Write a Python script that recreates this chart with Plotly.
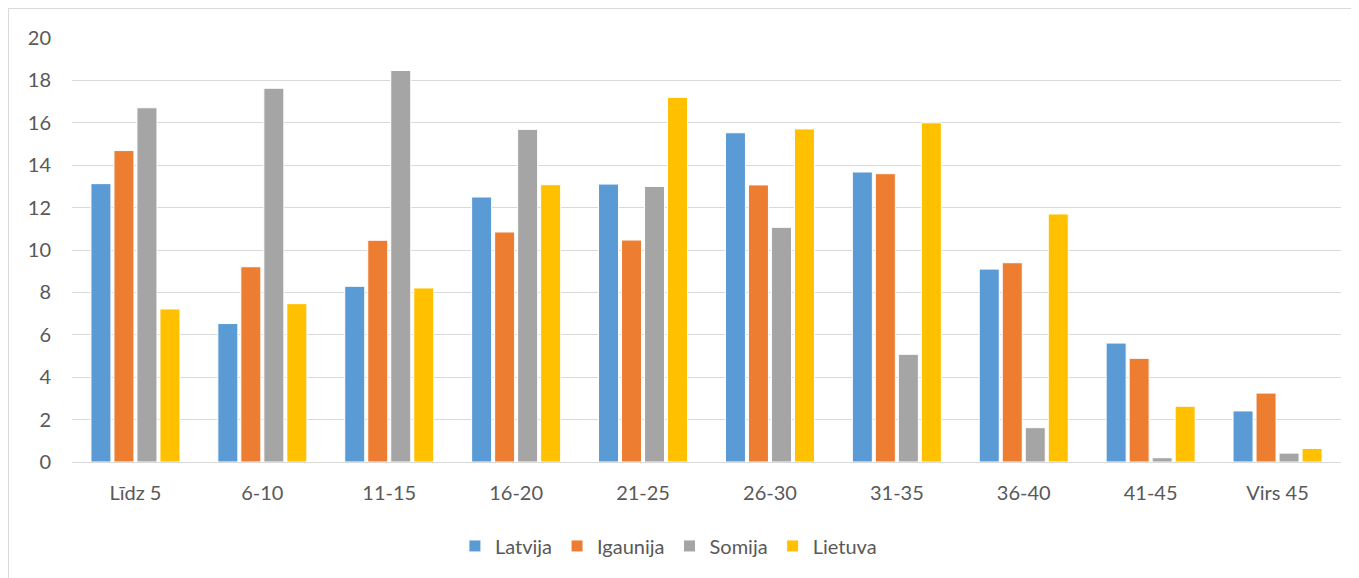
import plotly.graph_objects as go

categories = ["Līdz 5", "6-10", "11-15", "16-20", "21-25", "26-30", "31-35", "36-40", "41-45", "Virs 45"]
latvija = [13.13, 6.53, 8.29, 12.5, 13.11, 15.53, 13.68, 9.1, 5.61, 2.41]
igaunija = [14.69, 9.21, 10.46, 10.85, 10.47, 13.07, 13.6, 9.4, 4.89, 3.25]
somija = [16.71, 17.63, 18.47, 15.69, 13.0, 11.07, 5.08, 1.62, 0.2, 0.42]
lietuva = [7.22, 7.47, 8.21, 13.08, 17.2, 15.71, 16.0, 11.7, 2.63, 0.64]

series = [("Latvija", latvija, "#5b9bd5"), ("Igaunija", igaunija, "#ed7d31"),
          ("Somija", somija, "#a5a5a5"), ("Lietuva", lietuva, "#ffc000")]

fig = go.Figure()
for name, vals, color in series:
    fig.add_trace(go.Bar(x=categories, y=vals, name=name,
                         marker=dict(color=color, line=dict(color="white", width=1))))

# page body has an 8px margin, so figure coords are screen coords minus 8
W, H = 1351, 570
l, r, t, b = 64, 18, 30, 116
pw, ph = W - l - r, H - t - b

fig.update_layout(
    width=W, height=H,
    margin=dict(l=l, r=r, t=t, b=b),
    paper_bgcolor="white", plot_bgcolor="white",
    barmode="group", bargap=0.275, bargroupgap=0.13,
    font=dict(family="Lato, Carlito, Calibri, sans-serif", size=20, color="#595959"),
    xaxis=dict(showgrid=False, showline=True, linecolor="#d9d9d9", linewidth=1,
               ticks="", tickfont=dict(size=20, color="#595959"), ticklabelstandoff=13),
    yaxis=dict(range=[0, 20], dtick=2, showgrid=True, gridcolor="#d9d9d9", gridwidth=1,
               zeroline=False, ticks="", tickfont=dict(size=20, color="#595959"),
               ticklabelstandoff=20, showline=False),
    legend=dict(orientation="h", x=0.470, xanchor="center", y=-0.198, yanchor="middle",
                font=dict(size=20, color="#595959"), itemwidth=30, traceorder="normal"),
    shapes=[dict(type="rect", xref="paper", yref="paper",
                 x0=(0.5 - l) / pw, x1=(W + 5 - l) / pw,
                 y0=(t + ph - (H + 5)) / ph, y1=(t + ph - 0.5) / ph,
                 line=dict(color="#d9d9d9", width=1), layer="below")],
)

fig.write_html("out.html")
